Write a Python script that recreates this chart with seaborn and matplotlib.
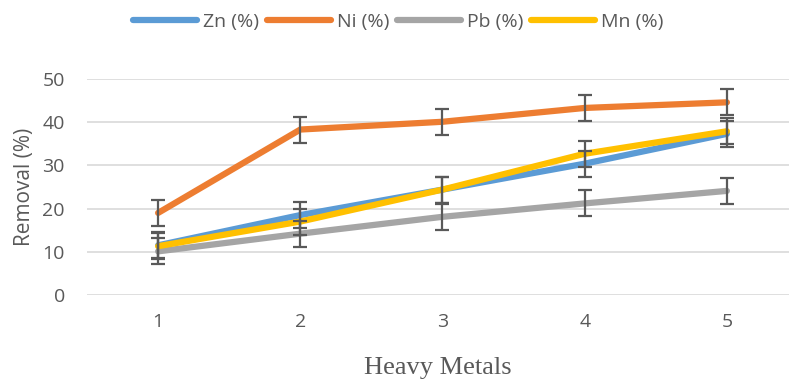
import numpy as np
import pandas as pd
import matplotlib
matplotlib.use("Agg")
import matplotlib.pyplot as plt
import seaborn as sns

# data
positions = [1, 2, 3, 4, 5]
zn = [11.5, 18.5, 24.4, 30.4, 37.3]
ni = [19.0, 38.3, 40.1, 43.3, 44.6]
pb = [10.1, 14.2, 18.1, 21.2, 24.1]
mn = [11.3, 17.0, 24.4, 32.7, 37.9]
err = 3.0
series_names = ["Zn (%)", "Ni (%)", "Pb (%)", "Mn (%)"]
colors = ["#5B9BD5", "#ED7D31", "#A5A5A5", "#FFC000"]

sns.set_style("white")
plt.rcParams['font.family'] = ['Open Sans', 'DejaVu Sans']

df = pd.DataFrame({
  'x': positions * 4,
  'value': zn + ni + pb + mn,
  'metal': [n for n in series_names for _ in positions],
})

fig = plt.figure(figsize=(7.89, 3.79), dpi=100)
ax = fig.add_axes([87 / 789, 84 / 379, (789 - 87) / 789, 216 / 379])

sns.lineplot(data=df, x='x', y='value', hue='metal', palette=colors,
             linewidth=4.5, ax=ax, legend=False, zorder=3)

for vals in [zn, ni, pb, mn]:
  ax.errorbar(positions, vals, yerr=err, fmt='none', ecolor='#595959',
              elinewidth=1.6, capsize=5, capthick=1.6, zorder=4)

ax.set_ylim(0, 50)
ax.set_xlim(0.5, 5.5 - 9 / 142.25)
ax.set_xticks(positions)
ax.set_yticks([0, 10, 20, 30, 40, 50])
ax.yaxis.grid(True, color='#D9D9D9', linewidth=1.2)
ax.xaxis.grid(False)
for s in ax.spines.values():
  s.set_visible(False)
ax.tick_params(axis='both', length=0, labelsize=14, labelcolor='#595959')
ax.tick_params(axis='y', pad=16)
ax.tick_params(axis='x', pad=13)

ax.set_ylabel("Removal (%)", fontsize=15, color='#595959', labelpad=5)
ax.set_xlabel("Heavy Metals", fontsize=19, color='#595959',
              family=['Liberation Serif', 'DejaVu Serif'], labelpad=19)

handles = [plt.Line2D([0], [0], color=c, lw=4.5, solid_capstyle='round') for c in colors]
fig.legend(handles, series_names, loc='center', bbox_to_anchor=(0.505, 0.942),
           ncol=4, frameon=False, fontsize=14, handlelength=3.3,
           handletextpad=0.3, columnspacing=0.4, labelcolor='#595959')

fig.savefig("out.png", dpi=100)
